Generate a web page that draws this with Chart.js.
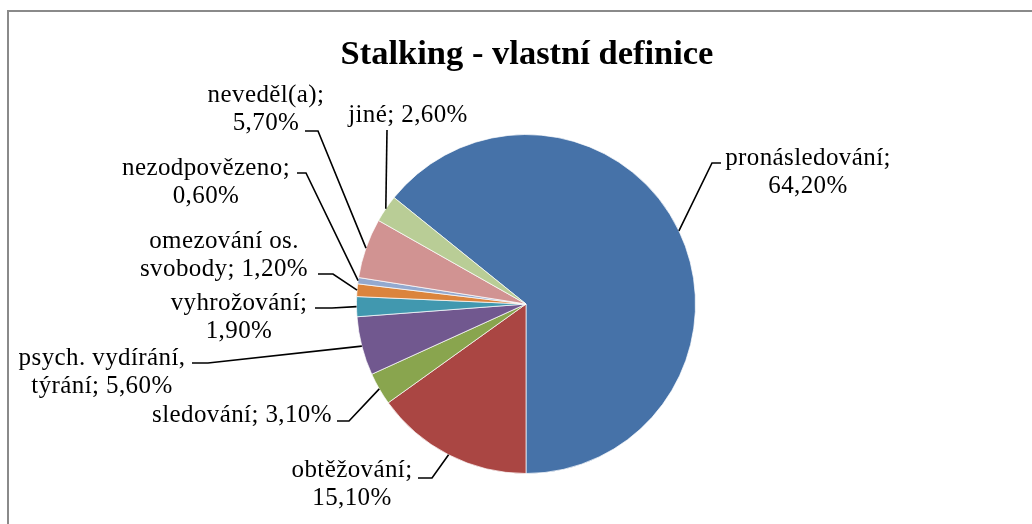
<!DOCTYPE html>
<html>
<head>
<meta charset="utf-8">
<script src="https://cdn.jsdelivr.net/npm/chart.js@4.4.0/dist/chart.umd.min.js"></script>
<style>
	html, body { margin: 0; padding: 0; background: #fff; overflow: hidden; }
	#wrap { position: relative; width: 1032px; height: 524px; }
</style>
</head>
<body>
<div id="wrap"><canvas id="mycanvas" width="1032" height="524"></canvas></div>
<script>
var title = 'Stalking - vlastní definice';
var categories = ['pronásledování', 'obtěžování', 'sledování', 'psych. vydírání, týrání', 'vyhrožování', 'omezování os. svobody', 'nezodpovězeno', 'neveděl(a)', 'jiné'];
var values = [64.2, 15.1, 3.1, 5.6, 1.9, 1.2, 0.6, 5.7, 2.6];
var colors = ['#4672A8', '#AA4643', '#89A54E', '#71588F', '#4198AF', '#DB843D', '#93A9CF', '#D19392', '#B9CD96'];

// label placement: text centre x, first baseline y, words on first line (0 = one line),
// and the two leader points near the text
var labelPos = [
	{x: 808, y: 165, brk: 1, p0: [721, 163], p1: [712, 163]},
	{x: 352, y: 477, brk: 1, p0: [418, 478], p1: [432, 478]},
	{x: 242, y: 422, brk: 0, p0: [337, 421], p1: [349, 421]},
	{x: 102, y: 365, brk: 2, p0: [192, 363], p1: [208, 363]},
	{x: 239, y: 310, brk: 1, p0: [315, 308], p1: [332, 308]},
	{x: 224, y: 248, brk: 2, p0: [318, 274], p1: [333, 274]},
	{x: 206, y: 175, brk: 1, p0: [297, 173], p1: [306, 173]},
	{x: 266, y: 102, brk: 1, p0: [305, 131], p1: [318, 131]},
	{x: 408, y: 122, brk: 0, p0: [387, 130], p1: [387, 130]}
];

function pct(v) {
	return v.toFixed(2).replace('.', ',') + '%';
}

var total = values.reduce(function(a, b) { return a + b; }, 0);

var labelPlugin = {
	id: 'excelLabels',
	afterDraw: function(chart) {
		var ctx = chart.ctx;
		ctx.save();
		// frame
		ctx.strokeStyle = '#8a8a8a';
		ctx.lineWidth = 2;
		ctx.strokeRect(8, 11, 1040, 530);
		// title
		ctx.fillStyle = '#000';
		ctx.font = 'bold 34.5px "Liberation Serif"';
		ctx.textAlign = 'center';
		ctx.textBaseline = 'alphabetic';
		ctx.fillText(title, 527, 64);

		var meta = chart.getDatasetMeta(0);
		ctx.font = '25px "Liberation Serif"';
		ctx.letterSpacing = '0.4px';
		for (var i = 0; i < meta.data.length; i++) {
			var arc = meta.data[i];
			var pos = labelPos[i];
			var mid = (arc.startAngle + arc.endAngle) / 2;
			var ex = arc.x + Math.cos(mid) * arc.outerRadius;
			var ey = arc.y + Math.sin(mid) * arc.outerRadius;
			ctx.strokeStyle = '#000';
			ctx.lineWidth = 1.6;
			ctx.beginPath();
			ctx.moveTo(pos.p0[0], pos.p0[1]);
			ctx.lineTo(pos.p1[0], pos.p1[1]);
			ctx.lineTo(ex, ey);
			ctx.stroke();

			var words = (categories[i] + '; ' + pct(values[i])).split(' ');
			var lines = pos.brk ? [words.slice(0, pos.brk).join(' '), words.slice(pos.brk).join(' ')] : [words.join(' ')];
			for (var j = 0; j < lines.length; j++) {
				ctx.fillText(lines[j], pos.x, pos.y + j * 27.5);
			}
		}
		ctx.restore();
	}
};

var ctx = document.getElementById('mycanvas');

var pieChart = new Chart(ctx, {
	type: 'pie',
	data: {
		labels: categories,
		datasets: [{
			data: values,
			backgroundColor: colors,
			borderColor: 'rgba(255,255,255,0.7)',
			borderWidth: 1
		}]
	},
	options: {
		responsive: false,
		animation: false,
		rotation: 180 - values[0] / total * 360,
		layout: { padding: { top: 134, bottom: 50, left: 356, right: 336 } },
		plugins: {
			legend: { display: false },
			tooltip: { enabled: false },
			title: { display: false }
		}
	},
	plugins: [labelPlugin]
});
</script>
</body>
</html>
